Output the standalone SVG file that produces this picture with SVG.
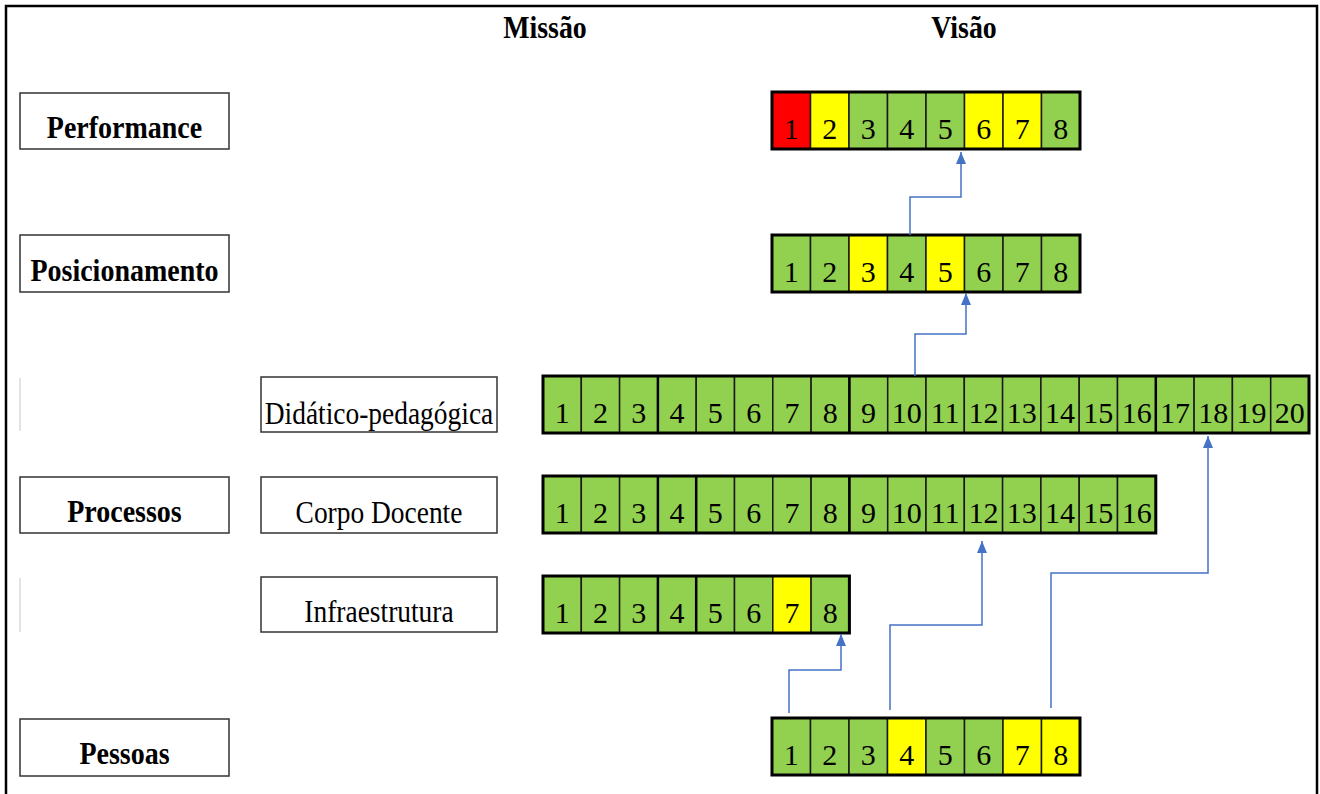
<svg xmlns="http://www.w3.org/2000/svg" width="1320" height="794" viewBox="0 0 1320 794">
<style>
.frame{fill:none;stroke:#000;stroke-width:2.5}
.lbl{fill:#fff;stroke:#333;stroke-width:1.5}
.hd{font-family:"Liberation Serif",serif;font-weight:bold;font-size:32px;fill:#000;text-anchor:middle}
.sub{font-family:"Liberation Serif",serif;font-size:31px;fill:#000;text-anchor:middle}
.num{font-family:"Liberation Serif",serif;font-size:30px;fill:#000;text-anchor:middle}
.g{fill:#92D050;stroke:#1a1a1a;stroke-width:1.5}
.y{fill:#FFFF00;stroke:#1a1a1a;stroke-width:1.5}
.r{fill:#FF0000;stroke:#1a1a1a;stroke-width:1.5}
.outer{fill:none;stroke:#000;stroke-width:3}
.thick{stroke:#000;stroke-width:2.5}
.faint{stroke:#d8d8d8;stroke-width:1.5}
.conn{fill:none;stroke:#4472C4;stroke-width:1.5}
</style>
<defs>
<marker id="arr" markerUnits="userSpaceOnUse" markerWidth="12" markerHeight="10" refX="12" refY="5" orient="auto">
<path d="M0,0 L12,5 L0,10 z" fill="#4472C4"/>
</marker>
</defs>
<rect x="0" y="0" width="1320" height="794" fill="#fff"/>
<path class="frame" d="M6,794 V6 H1317 V794"/>

<g id="headers">
<text class="hd" transform="translate(545,38) scale(0.87,1)">Missão</text>
<text class="hd" transform="translate(964,38) scale(0.87,1)">Visão</text>
</g>

<g id="label-performance">
<rect class="lbl" x="20" y="93" width="209" height="56"/>
<text class="hd" transform="translate(124.5,138) scale(0.875,1)">Performance</text>
</g>
<g id="label-posicionamento">
<rect class="lbl" x="20" y="235" width="209" height="57"/>
<text class="hd" transform="translate(124.5,281) scale(0.875,1)">Posicionamento</text>
</g>
<g id="label-processos">
<line class="faint" x1="20" y1="378" x2="20" y2="431"/>
<line class="faint" x1="20" y1="578" x2="20" y2="632"/>
<rect class="lbl" x="20" y="477" width="209" height="56"/>
<text class="hd" transform="translate(124.5,522) scale(0.875,1)">Processos</text>
</g>
<g id="label-pessoas">
<rect class="lbl" x="20" y="719" width="209" height="57"/>
<text class="hd" transform="translate(124.5,764) scale(0.875,1)">Pessoas</text>
</g>
<g id="label-didatico">
<rect class="lbl" x="261" y="377" width="236" height="55"/>
<text class="sub" transform="translate(379,424) scale(0.885,1)">Didático-pedagógica</text>
</g>
<g id="label-corpo">
<rect class="lbl" x="261" y="477" width="236" height="56"/>
<text class="sub" transform="translate(379,523) scale(0.885,1)">Corpo Docente</text>
</g>
<g id="label-infra">
<rect class="lbl" x="261" y="577" width="236" height="55"/>
<text class="sub" transform="translate(379,622) scale(0.885,1)">Infraestrutura</text>
</g>

<g id="row-performance">
<rect class="r" x="772" y="92" width="38.5" height="57"/>
<rect class="y" x="810.5" y="92" width="38.5" height="57"/>
<rect class="g" x="849" y="92" width="38.5" height="57"/>
<rect class="g" x="887.5" y="92" width="38.5" height="57"/>
<rect class="g" x="926" y="92" width="38.5" height="57"/>
<rect class="y" x="964.5" y="92" width="38.5" height="57"/>
<rect class="y" x="1003" y="92" width="38.5" height="57"/>
<rect class="g" x="1041.5" y="92" width="38.5" height="57"/>
<rect class="outer" x="772" y="92" width="308" height="57"/>
<text class="num" x="791.25" y="139">1</text>
<text class="num" x="829.75" y="139">2</text>
<text class="num" x="868.25" y="139">3</text>
<text class="num" x="906.75" y="139">4</text>
<text class="num" x="945.25" y="139">5</text>
<text class="num" x="983.75" y="139">6</text>
<text class="num" x="1022.25" y="139">7</text>
<text class="num" x="1060.75" y="139">8</text>
</g>

<g id="row-posicionamento">
<rect class="g" x="772" y="235" width="38.5" height="57"/>
<rect class="g" x="810.5" y="235" width="38.5" height="57"/>
<rect class="y" x="849" y="235" width="38.5" height="57"/>
<rect class="g" x="887.5" y="235" width="38.5" height="57"/>
<rect class="y" x="926" y="235" width="38.5" height="57"/>
<rect class="g" x="964.5" y="235" width="38.5" height="57"/>
<rect class="g" x="1003" y="235" width="38.5" height="57"/>
<rect class="g" x="1041.5" y="235" width="38.5" height="57"/>
<rect class="outer" x="772" y="235" width="308" height="57"/>
<text class="num" x="791.25" y="282">1</text>
<text class="num" x="829.75" y="282">2</text>
<text class="num" x="868.25" y="282">3</text>
<text class="num" x="906.75" y="282">4</text>
<text class="num" x="945.25" y="282">5</text>
<text class="num" x="983.75" y="282">6</text>
<text class="num" x="1022.25" y="282">7</text>
<text class="num" x="1060.75" y="282">8</text>
</g>

<g id="row-didatico">
<rect class="g" x="543" y="376" width="38.3" height="57"/>
<rect class="g" x="581.3" y="376" width="38.3" height="57"/>
<rect class="g" x="619.6" y="376" width="38.3" height="57"/>
<rect class="g" x="657.9" y="376" width="38.3" height="57"/>
<rect class="g" x="696.2" y="376" width="38.3" height="57"/>
<rect class="g" x="734.5" y="376" width="38.3" height="57"/>
<rect class="g" x="772.8" y="376" width="38.3" height="57"/>
<rect class="g" x="811.1" y="376" width="38.3" height="57"/>
<rect class="g" x="849.4" y="376" width="38.3" height="57"/>
<rect class="g" x="887.7" y="376" width="38.3" height="57"/>
<rect class="g" x="926" y="376" width="38.3" height="57"/>
<rect class="g" x="964.3" y="376" width="38.3" height="57"/>
<rect class="g" x="1002.6" y="376" width="38.3" height="57"/>
<rect class="g" x="1040.9" y="376" width="38.3" height="57"/>
<rect class="g" x="1079.2" y="376" width="38.3" height="57"/>
<rect class="g" x="1117.5" y="376" width="38.3" height="57"/>
<rect class="g" x="1155.8" y="376" width="38.3" height="57"/>
<rect class="g" x="1194.1" y="376" width="38.3" height="57"/>
<rect class="g" x="1232.4" y="376" width="38.3" height="57"/>
<rect class="g" x="1270.7" y="376" width="38.3" height="57"/>
<line class="thick" x1="657.9" y1="376" x2="657.9" y2="433"/>
<line class="thick" x1="849.4" y1="376" x2="849.4" y2="433"/>
<line class="thick" x1="1155.8" y1="376" x2="1155.8" y2="433"/>
<rect class="outer" x="543" y="376" width="766" height="57"/>
<text class="num" x="562.15" y="423">1</text>
<text class="num" x="600.45" y="423">2</text>
<text class="num" x="638.75" y="423">3</text>
<text class="num" x="677.05" y="423">4</text>
<text class="num" x="715.35" y="423">5</text>
<text class="num" x="753.65" y="423">6</text>
<text class="num" x="791.95" y="423">7</text>
<text class="num" x="830.25" y="423">8</text>
<text class="num" x="868.55" y="423">9</text>
<text class="num" x="906.85" y="423">10</text>
<text class="num" x="945.15" y="423">11</text>
<text class="num" x="983.45" y="423">12</text>
<text class="num" x="1021.75" y="423">13</text>
<text class="num" x="1060.05" y="423">14</text>
<text class="num" x="1098.35" y="423">15</text>
<text class="num" x="1136.65" y="423">16</text>
<text class="num" x="1174.95" y="423">17</text>
<text class="num" x="1213.25" y="423">18</text>
<text class="num" x="1251.55" y="423">19</text>
<text class="num" x="1289.85" y="423">20</text>
</g>

<g id="row-corpo">
<rect class="g" x="543" y="476" width="38.3" height="57"/>
<rect class="g" x="581.3" y="476" width="38.3" height="57"/>
<rect class="g" x="619.6" y="476" width="38.3" height="57"/>
<rect class="g" x="657.9" y="476" width="38.3" height="57"/>
<rect class="g" x="696.2" y="476" width="38.3" height="57"/>
<rect class="g" x="734.5" y="476" width="38.3" height="57"/>
<rect class="g" x="772.8" y="476" width="38.3" height="57"/>
<rect class="g" x="811.1" y="476" width="38.3" height="57"/>
<rect class="g" x="849.4" y="476" width="38.3" height="57"/>
<rect class="g" x="887.7" y="476" width="38.3" height="57"/>
<rect class="g" x="926" y="476" width="38.3" height="57"/>
<rect class="g" x="964.3" y="476" width="38.3" height="57"/>
<rect class="g" x="1002.6" y="476" width="38.3" height="57"/>
<rect class="g" x="1040.9" y="476" width="38.3" height="57"/>
<rect class="g" x="1079.2" y="476" width="38.3" height="57"/>
<rect class="g" x="1117.5" y="476" width="38.3" height="57"/>
<line class="thick" x1="657.9" y1="476" x2="657.9" y2="533"/>
<line class="thick" x1="696.2" y1="476" x2="696.2" y2="533"/>
<line class="thick" x1="849.4" y1="476" x2="849.4" y2="533"/>
<rect class="outer" x="543" y="476" width="612.8" height="57"/>
<text class="num" x="562.15" y="523">1</text>
<text class="num" x="600.45" y="523">2</text>
<text class="num" x="638.75" y="523">3</text>
<text class="num" x="677.05" y="523">4</text>
<text class="num" x="715.35" y="523">5</text>
<text class="num" x="753.65" y="523">6</text>
<text class="num" x="791.95" y="523">7</text>
<text class="num" x="830.25" y="523">8</text>
<text class="num" x="868.55" y="523">9</text>
<text class="num" x="906.85" y="523">10</text>
<text class="num" x="945.15" y="523">11</text>
<text class="num" x="983.45" y="523">12</text>
<text class="num" x="1021.75" y="523">13</text>
<text class="num" x="1060.05" y="523">14</text>
<text class="num" x="1098.35" y="523">15</text>
<text class="num" x="1136.65" y="523">16</text>
</g>

<g id="row-infra">
<rect class="g" x="543" y="576" width="38.3" height="57"/>
<rect class="g" x="581.3" y="576" width="38.3" height="57"/>
<rect class="g" x="619.6" y="576" width="38.3" height="57"/>
<rect class="g" x="657.9" y="576" width="38.3" height="57"/>
<rect class="g" x="696.2" y="576" width="38.3" height="57"/>
<rect class="g" x="734.5" y="576" width="38.3" height="57"/>
<rect class="y" x="772.8" y="576" width="38.3" height="57"/>
<rect class="g" x="811.1" y="576" width="38.3" height="57"/>
<line class="thick" x1="657.9" y1="576" x2="657.9" y2="633"/>
<line class="thick" x1="696.2" y1="576" x2="696.2" y2="633"/>
<rect class="outer" x="543" y="576" width="306.4" height="57"/>
<text class="num" x="562.15" y="623">1</text>
<text class="num" x="600.45" y="623">2</text>
<text class="num" x="638.75" y="623">3</text>
<text class="num" x="677.05" y="623">4</text>
<text class="num" x="715.35" y="623">5</text>
<text class="num" x="753.65" y="623">6</text>
<text class="num" x="791.95" y="623">7</text>
<text class="num" x="830.25" y="623">8</text>
</g>

<g id="row-pessoas">
<rect class="g" x="772" y="718" width="38.5" height="57"/>
<rect class="g" x="810.5" y="718" width="38.5" height="57"/>
<rect class="g" x="849" y="718" width="38.5" height="57"/>
<rect class="y" x="887.5" y="718" width="38.5" height="57"/>
<rect class="g" x="926" y="718" width="38.5" height="57"/>
<rect class="g" x="964.5" y="718" width="38.5" height="57"/>
<rect class="y" x="1003" y="718" width="38.5" height="57"/>
<rect class="y" x="1041.5" y="718" width="38.5" height="57"/>
<rect class="outer" x="772" y="718" width="308" height="57"/>
<text class="num" x="791.25" y="765">1</text>
<text class="num" x="829.75" y="765">2</text>
<text class="num" x="868.25" y="765">3</text>
<text class="num" x="906.75" y="765">4</text>
<text class="num" x="945.25" y="765">5</text>
<text class="num" x="983.75" y="765">6</text>
<text class="num" x="1022.25" y="765">7</text>
<text class="num" x="1060.75" y="765">8</text>
</g>

<g id="connectors">
<path class="conn" marker-end="url(#arr)" d="M910,235 V197 H961 V152"/>
<path class="conn" marker-end="url(#arr)" d="M915,376 V334 H966 V293"/>
<path class="conn" marker-end="url(#arr)" d="M789,713 V670 H841 V634"/>
<path class="conn" marker-end="url(#arr)" d="M890,710 V625 H982 V541"/>
<path class="conn" marker-end="url(#arr)" d="M1051,708 V573 H1208 V436"/>
</g>
</svg>
